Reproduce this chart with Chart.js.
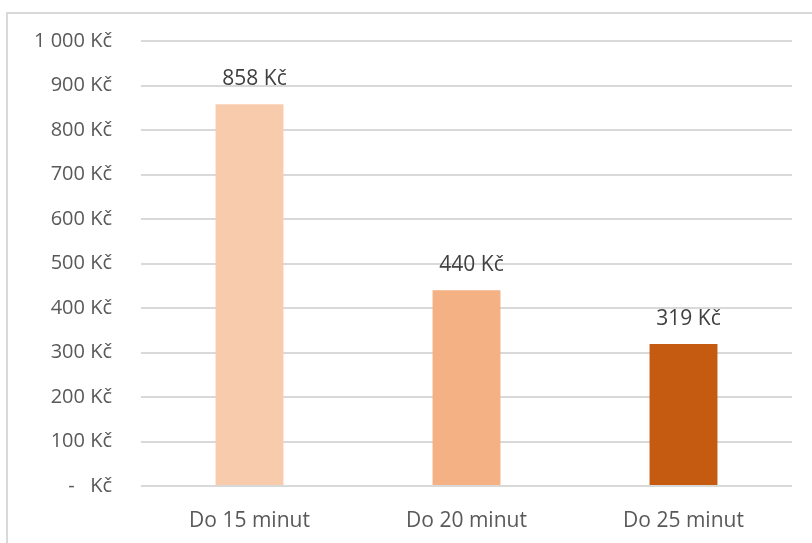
<!DOCTYPE html>
<html>
<head>
<meta charset="utf-8">
<script src="https://cdn.jsdelivr.net/npm/chart.js@4"></script>
<style>
  html, body { margin: 0; padding: 0; background: #ffffff; }
  #wrap { width: 812px; height: 543px; position: relative; }
</style>
</head>
<body>
<div id="wrap"><canvas id="costChart" width="812" height="543"></canvas></div>
<script>
const categories = ["Do 15 minut", "Do 20 minut", "Do 25 minut"];
const prices = [858, 440, 319];
const barColors = ["#F8CBAD", "#F4B183", "#C55A11"];
const yTicks = [0, 100, 200, 300, 400, 500, 600, 700, 800, 900, 1000];

function formatKc(v) {
    if (v === 0) return "-   Kč";
    return v.toString().replace(/\B(?=(\d{3})+(?!\d))/g, " ") + " Kč";
}

const fontFamily = "'Open Sans', 'DejaVu Sans', sans-serif";

// frame lines (top + left, like the Excel chart border)
const framePlugin = {
    id: "frame",
    beforeDraw(chart) {
        const c = chart.ctx;
        c.save();
        c.strokeStyle = "#d9d9d9";
        c.lineWidth = 2;
        c.beginPath();
        c.moveTo(7, 543);
        c.lineTo(7, 13);
        c.lineTo(812, 13);
        c.stroke();
        c.restore();
    }
};

// value labels above bars
const valueLabels = {
    id: "valueLabels",
    afterDatasetsDraw(chart) {
        const c = chart.ctx;
        const meta = chart.getDatasetMeta(0);
        c.save();
        c.font = "21px " + fontFamily;
        c.fillStyle = "#404040";
        c.textAlign = "center";
        c.textBaseline = "middle";
        meta.data.forEach((bar, i) => {
            c.fillText(formatKc(prices[i]), bar.x + 5, bar.y - 25);
        });
        c.restore();
    }
};

let costChart = null;

function drawCostChart() {
    const ctx = document.getElementById("costChart").getContext("2d");
    if (costChart) costChart.destroy();

    costChart = new Chart(ctx, {
        type: "bar",
        data: {
            labels: categories,
            datasets: [
                {
                    data: prices,
                    backgroundColor: barColors,
                    borderWidth: 0,
                    categoryPercentage: 1,
                    barPercentage: 0.313
                }
            ]
        },
        options: {
            responsive: false,
            animation: false,
            layout: {
                padding: { left: 0, right: 20, top: 41, bottom: 0 }
            },
            plugins: {
                legend: { display: false },
                tooltip: { enabled: false }
            },
            scales: {
                x: {
                    grid: { display: false },
                    border: { display: false },
                    ticks: {
                        color: "#595959",
                        font: { family: fontFamily, size: 21 },
                        padding: 14
                    },
                    afterFit(scale) {
                        scale.height = 57;
                    }
                },
                y: {
                    min: 0,
                    max: 1000,
                    afterBuildTicks(scale) {
                        scale.ticks = yTicks.map(v => ({ value: v }));
                    },
                    grid: { color: "#d9d9d9", lineWidth: 2, drawTicks: false },
                    border: { display: false },
                    ticks: {
                        color: "#595959",
                        font: { family: fontFamily, size: 20 },
                        padding: 29,
                        callback: v => formatKc(v)
                    },
                    afterFit(scale) {
                        scale.width = 141;
                    }
                }
            }
        },
        plugins: [framePlugin, valueLabels]
    });
}

drawCostChart();
</script>
</body>
</html>
